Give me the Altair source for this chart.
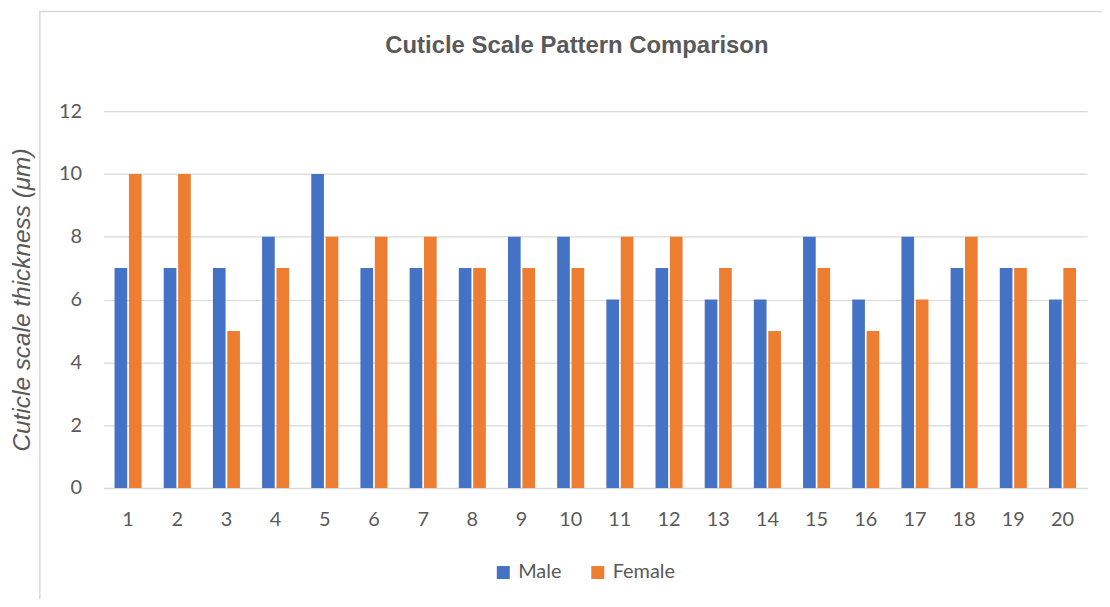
import altair as alt
import pandas as pd

samples = [str(i) for i in range(1, 21)]
male = [7, 7, 7, 8, 10, 7, 7, 7, 8, 8, 6, 7, 6, 6, 8, 6, 8, 7, 7, 6]
female = [10, 10, 5, 7, 8, 8, 8, 7, 7, 7, 8, 8, 7, 5, 7, 5, 6, 8, 7, 7]
series = ["Male", "Female"]
colors = ["#4472C4", "#ED7D31"]
chart_title = "Cuticle Scale Pattern Comparison"

rows = []
for s, m, f in zip(samples, male, female):
    rows.append({"sample": s, "sex": "Male", "value": m})
    rows.append({"sample": s, "sex": "Female", "value": f})
df = pd.DataFrame(rows)

W, H = 989, 379
font = "Lato"
gray = "#595959"

bars = alt.Chart(df).mark_bar().encode(
    x=alt.X("sample:N", sort=samples, title=None,
            scale=alt.Scale(paddingInner=0.45, paddingOuter=0.225),
            axis=alt.Axis(labelAngle=0, labelFont=font, labelFontSize=20, labelColor=gray,
                          labelPadding=22, ticks=False, domainColor="#d9d9d9", domainWidth=1.5,
                          grid=False)),
    xOffset=alt.XOffset("sex:N", sort=series, scale=alt.Scale(paddingInner=0.12)),
    y=alt.Y("value:Q", title="Cuticle scale thickness (μm)",
            scale=alt.Scale(domain=[0, 12]),
            axis=alt.Axis(values=[0, 2, 4, 6, 8, 10, 12], labelFont=font, labelFontSize=20,
                          labelColor=gray, labelPadding=22, ticks=False, domain=False,
                          gridColor="#d9d9d9", gridWidth=1.2,
                          titleFont="Liberation Sans", titleFontStyle="italic",
                          titleFontWeight="normal", titleFontSize=24.5, titleColor=gray,
                          titlePadding=24)),
    color=alt.Color("sex:N", sort=series,
                    scale=alt.Scale(domain=series, range=colors),
                    legend=alt.Legend(title=None, orient="none", direction="horizontal",
                                      legendX=392, legendY=454, symbolType="square",
                                      symbolSize=170, symbolStrokeWidth=0,
                                      labelFont=font, labelFontSize=20, labelColor=gray,
                                      columnPadding=26, labelOffset=5)),
)

border = alt.Chart(pd.DataFrame({"a": [0]})).mark_rect(
    fill=None, stroke="#d9d9d9", strokeWidth=1.5
).encode(
    x=alt.value(-64), x2=alt.value(1030),
    y=alt.value(-100), y2=alt.value(530),
)

title = alt.Chart(pd.DataFrame({"t": [chart_title]})).mark_text(
    font="Liberation Sans", fontSize=24, fontWeight="bold", color=gray,
    align="center", baseline="middle"
).encode(
    text="t:N", x=alt.value(476), y=alt.value(-65),
)

chart = alt.layer(border, bars, title).properties(
    width=W, height=H,
    autosize=alt.AutoSizeParams(type="none"),
    padding={"left": 96, "top": 102, "right": 15, "bottom": 110},
).configure_view(stroke=None)

chart.save("out.html", embed_options={"renderer": "svg", "actions": False})
